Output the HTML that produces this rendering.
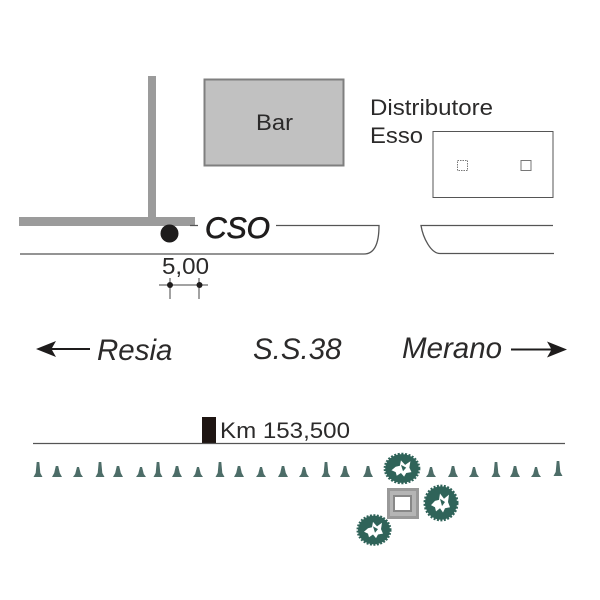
<!DOCTYPE html>
<html>
<head>
<meta charset="utf-8">
<style>
html,body{margin:0;padding:0;background:#fff}
svg{display:block}
text{font-family:"Liberation Sans",sans-serif;fill:#2b2a2a}
</style>
</head>
<body>
<svg width="600" height="600" viewBox="0 0 600 600" xmlns="http://www.w3.org/2000/svg">
<defs>
<g id="t1"><path d="M-1.300 -15 L1.300 -15 L2.300 -4 L4.500 0 L-4.500 0 L-2.300 -4 Z" fill="#4d6d68"/></g>
<g id="t2"><path d="M-1.200 -11 L1.200 -11 L2.800 -4 L5 0 L-5 0 L-2.800 -4 Z" fill="#4d6d68"/></g>
<g id="t3"><path d="M-1 -10 L1 -10 L2.800 -3 L5 0 L-5 0 L-2.800 -3 Z" fill="#4d6d68"/></g>
<g id="w">
<circle r="16" fill="#2f6359"/>
<circle r="16.500" fill="none" stroke="#2f6359" stroke-width="2" stroke-dasharray="2 1.500"/>
<path d="M-10 2 L-6 -2 L-2 -3 L-1 -9 L3 -4 L8 -8 L7 -1 L9 4 L4 5 L2 9 L-1 5 L-5 8 L-6 4 Z" fill="#fff"/>
<path d="M-1 -4 L4 -1 L1 3 Z" fill="#2f6359"/>
</g>
</defs>

<!-- grey roads -->
<rect x="148" y="76" width="8" height="146" fill="#9b9b9b"/>
<rect x="19" y="217" width="176" height="9" fill="#9b9b9b"/>

<!-- Bar -->
<rect x="204.500" y="79.500" width="139" height="86" fill="#c1c1c1" stroke="#7f7f7f" stroke-width="2"/>
<text x="256" y="130" font-size="22.500" textLength="37" lengthAdjust="spacingAndGlyphs">Bar</text>

<!-- Distributore -->
<text x="370" y="115" font-size="22.500" textLength="123" lengthAdjust="spacingAndGlyphs">Distributore</text>
<text x="370" y="143" font-size="22.500" textLength="53" lengthAdjust="spacingAndGlyphs">Esso</text>
<rect x="433" y="131.500" width="120" height="66" fill="#fff" stroke="#555" stroke-width="1"/>
<rect x="457.500" y="160.500" width="10" height="10" fill="none" stroke="#777" stroke-width="1" stroke-dasharray="1.500 1"/>
<rect x="521" y="160.500" width="10" height="10" fill="none" stroke="#777" stroke-width="1"/>

<!-- road lines -->
<path d="M190 225.500 H198 M276 225.500 H379 C379 240 376 254 364 254 H20" fill="none" stroke="#555" stroke-width="1.300"/>
<path d="M553 225.500 H421 C423 238 431 253.500 440 253.500 H554" fill="none" stroke="#555" stroke-width="1.300"/>

<!-- dot -->
<circle cx="169.500" cy="233.500" r="9" fill="#1e1c1c"/>
<text x="205" y="238" font-size="30" font-style="italic" style="fill:#1f1d1d;stroke:#1f1d1d;stroke-width:.7">CSO</text>

<!-- dimension -->
<text x="162" y="274" font-size="23" textLength="47" lengthAdjust="spacingAndGlyphs">5,00</text>
<path d="M159 285 H208 M170 278 V299 M199 278 V299" fill="none" stroke="#444" stroke-width="1"/>
<circle cx="170" cy="285" r="3" fill="#1e1c1c"/>
<circle cx="199.500" cy="285" r="3" fill="#1e1c1c"/>

<!-- arrows and labels -->
<path d="M36 349 L56 341 L52 348 H90 V350 H52 L56 357 Z" fill="#1e1c1c"/>
<text x="97" y="360" font-size="29.500" font-style="italic">Resia</text>
<text x="253" y="359" font-size="29.500" font-style="italic">S.S.38</text>
<text x="402" y="358" font-size="29.500" font-style="italic">Merano</text>
<path d="M567 349.500 L547 341.500 L551 348.500 H511 V350.500 H551 L547 357.500 Z" fill="#1e1c1c"/>

<!-- km -->
<rect x="202" y="417" width="14" height="26" fill="#1e1512"/>
<line x1="33" y1="443.500" x2="565" y2="443.500" stroke="#555" stroke-width="1.300"/>
<text x="220" y="438" font-size="22.500" textLength="130" lengthAdjust="spacingAndGlyphs">Km 153,500</text>

<!-- trees -->
<use href="#t1" x="38" y="477"/>
<use href="#t2" x="57" y="477"/>
<use href="#t3" x="78" y="477"/>
<use href="#t1" x="100" y="477"/>
<use href="#t2" x="118" y="477"/>
<use href="#t3" x="141" y="477"/>
<use href="#t1" x="158" y="477"/>
<use href="#t2" x="177" y="477"/>
<use href="#t3" x="198" y="477"/>
<use href="#t1" x="220" y="477"/>
<use href="#t2" x="239" y="477"/>
<use href="#t3" x="261" y="477"/>
<use href="#t2" x="283" y="477"/>
<use href="#t3" x="304" y="477"/>
<use href="#t1" x="326" y="477"/>
<use href="#t2" x="345" y="477"/>
<use href="#t2" x="368" y="477"/>
<use href="#t3" x="431" y="477"/>
<use href="#t2" x="453" y="477"/>
<use href="#t3" x="474" y="477"/>
<use href="#t1" x="496" y="477"/>
<use href="#t2" x="515" y="477"/>
<use href="#t3" x="536" y="477"/>
<use href="#t1" x="558" y="476"/>

<!-- square -->
<rect x="387" y="488" width="32" height="31" fill="#999"/>
<rect x="390" y="491" width="26" height="25" fill="#b5b5b5"/>
<rect x="393" y="495" width="19" height="17" fill="#888"/>
<rect x="395" y="497" width="15" height="13" fill="#fff"/>

<!-- wreaths -->
<use href="#w" transform="translate(402 468.500) scale(1.050 .900)"/>
<use href="#w" transform="translate(441 503) scale(1 1.050)"/>
<use href="#w" transform="translate(374 530) scale(1 .900)"/>
</svg>
</body>
</html>
